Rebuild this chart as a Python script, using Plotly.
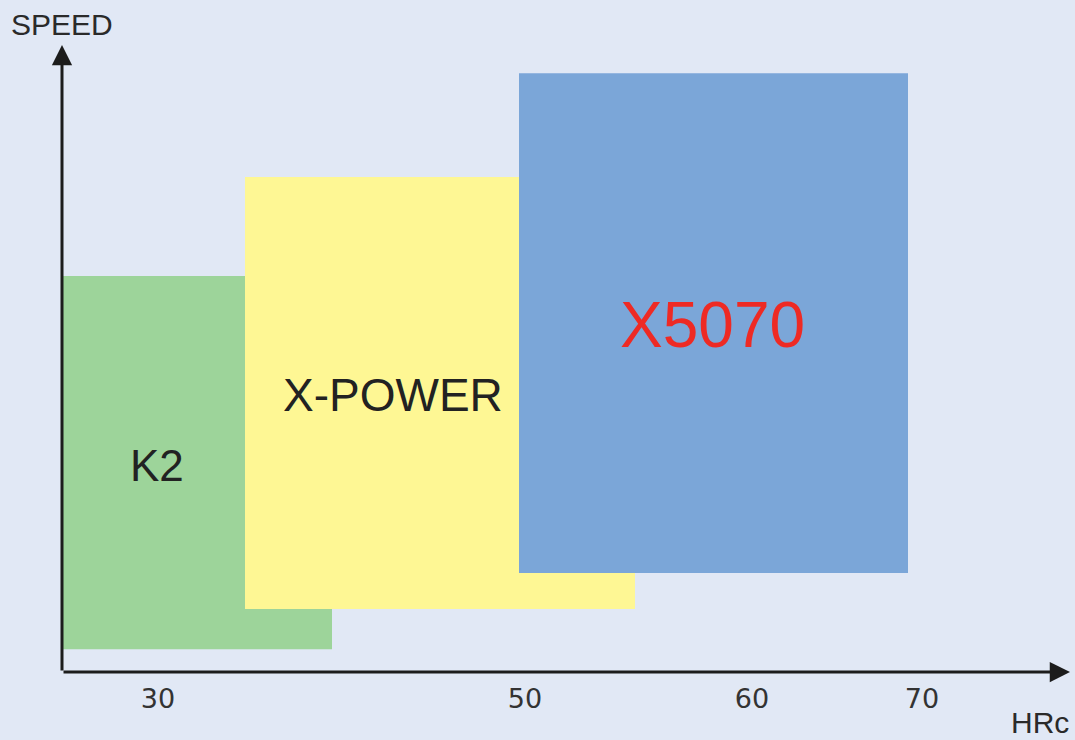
import plotly.graph_objects as go

# ---- data (chart units: x = hardness position, y = speed level) ----
products = ["K2", "X-POWER", "X5070"]
x_left = [0.0, 18.3, 45.7]
x_right = [27.0, 57.3, 84.6]
y_low = [3.8, 10.5, 16.5]
y_high = [66.0, 82.5, 99.8]
fill_colors = ["#9dd49a", "#fef794", "#7ba6d8"]
label_x = [9.5, 33.1, 65.0]
label_y = [34.5, 46.2, 57.8]
label_colors = ["#222222", "#222222", "#ee2a24"]
label_sizes = [44, 46, 64]

tick_pos = [9.6, 46.3, 69.0, 86.0]
tick_labels = ["30", "50", "60", "70"]

x_max = 101.3
y_max = 112.0
x_arrow_tip = 100.8
y_arrow_tip = 104.5

bg = "#e1e8f5"
axis_color = "#1c1c1c"

fig = go.Figure()

# invisible trace to set up axes
fig.add_trace(go.Scatter(x=[0, x_max], y=[0, y_max], mode="markers",
                         marker=dict(opacity=0), hoverinfo="skip", showlegend=False))

shapes = []
for i in range(len(products)):
    shapes.append(dict(type="rect", xref="x", yref="y",
                       x0=x_left[i], x1=x_right[i], y0=y_low[i], y1=y_high[i],
                       fillcolor=fill_colors[i], line=dict(width=0), layer="above"))

annotations = []
for i, p in enumerate(products):
    annotations.append(dict(x=label_x[i], y=label_y[i], xref="x", yref="y",
                            text=p, showarrow=False,
                            font=dict(family="Liberation Sans, Arial, sans-serif",
                                      size=label_sizes[i], color=label_colors[i])))

# axis arrows
annotations.append(dict(x=x_arrow_tip, y=0, ax=0, ay=0, xref="x", yref="y",
                        axref="x", ayref="y", text="", showarrow=True,
                        arrowhead=2, arrowsize=1.35, arrowwidth=3,
                        arrowcolor=axis_color, standoff=0, startstandoff=0))
annotations.append(dict(x=0, y=y_arrow_tip, ax=0, ay=0, xref="x", yref="y",
                        axref="x", ayref="y", text="", showarrow=True,
                        arrowhead=2, arrowsize=1.35, arrowwidth=3,
                        arrowcolor=axis_color, standoff=0, startstandoff=0))

# axis titles
annotations.append(dict(x=-0.0, y=108.0, xref="x", yref="y", text="SPEED",
                        showarrow=False, yanchor="middle",
                        font=dict(family="Liberation Sans, Arial, sans-serif",
                                  size=30, color="#2a2a2a")))
annotations.append(dict(x=97.8, y=-50 / 672, xref="x", yref="paper", text="HRc",
                        showarrow=False, yanchor="middle",
                        font=dict(family="Liberation Sans, Arial, sans-serif",
                                  size=30, color="#2a2a2a")))

fig.update_layout(
    width=1075, height=740,
    margin=dict(l=62, r=0, t=0, b=68),
    paper_bgcolor=bg, plot_bgcolor=bg,
    shapes=shapes, annotations=annotations,
    showlegend=False,
    xaxis=dict(range=[0, x_max], showgrid=False, zeroline=False, showline=False,
               tickvals=tick_pos, ticktext=tick_labels, ticks="",
               ticklabelstandoff=8,
               tickfont=dict(family="DejaVu Sans, sans-serif", size=27, color="#333333"),
               fixedrange=True),
    yaxis=dict(range=[0, y_max], showgrid=False, zeroline=False, showline=False,
               showticklabels=False, ticks="", fixedrange=True),
)

fig.write_html("out.html", config={"displayModeBar": False},
               post_script="document.body.style.margin='0';document.body.style.overflow='hidden';")
